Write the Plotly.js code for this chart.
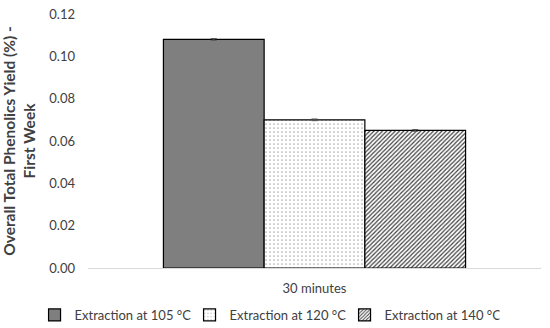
<!DOCTYPE html>
<html>
<head>
<meta charset="utf-8">
<script src="https://cdn.plot.ly/plotly-3.0.1.min.js"></script>
<style>html,body{margin:0;padding:0;background:#fff;}#chart{width:550px;height:328px;}</style>
</head>
<body>
<div id="chart"></div>
<script>
const categories = ['30 minutes'];
const seriesNames = ['Extraction at 105 °C', 'Extraction at 120 °C', 'Extraction at 140 °C'];
const yield105 = [0.108];
const yield120 = [0.070];
const yield140 = [0.065];
const err105 = [0.0004];
const err120 = [0.0004];
const err140 = [0.0004];
const yTicks = [0, 0.02, 0.04, 0.06, 0.08, 0.10, 0.12];
const yTickLabels = ['0.00', '0.02', '0.04', '0.06', '0.08', '0.10', '0.12'];

const font = 'Lato, "Open Sans", sans-serif';
const styles = [
  {fill: '#7f7f7f', pattern: {shape: '', bgcolor: '#7f7f7f'}},
  {fill: '#ffffff', pattern: {shape: '.', fgcolor: '#b0b0b0', bgcolor: '#ffffff', size: 4, solidity: 0.15}},
  {fill: '#ffffff', pattern: {shape: '/', fgcolor: '#404040', bgcolor: '#ffffff', size: 3, solidity: 0.4}}
];
const values = [yield105, yield120, yield140];
const errs = [err105, err120, err140];

const data = values.map((v, i) => ({
  type: 'bar',
  name: seriesNames[i],
  x: categories,
  y: v,
  error_y: {type: 'data', array: errs[i], visible: true, color: '#555', thickness: 1, width: 3},
  marker: {
    color: styles[i].fill,
    pattern: styles[i].pattern,
    line: {color: '#000', width: 1.2}
  }
}));

const layout = {
  width: 550, height: 328,
  margin: {l: 88, r: 9, t: 14, b: 60, autoexpand: false},
  paper_bgcolor: '#fff', plot_bgcolor: '#fff',
  font: {family: font, size: 13, color: '#404040'},
  barmode: 'group',
  bargap: 0.333,
  bargroupgap: 0,
  showlegend: true,
  legend: {orientation: 'h', x: -0.118, xanchor: 'left', y: -0.185, yanchor: 'middle',
           bgcolor: 'rgba(0,0,0,0)',
           font: {family: font, size: 13, color: '#404040'}, itemwidth: 30,
           entrywidth: 110, entrywidthmode: 'pixels', traceorder: 'normal'},
  xaxis: {
    showline: true, linecolor: '#d9d9d9', linewidth: 1, showgrid: false,
    ticks: '', ticklabelstandoff: 8,
    tickfont: {family: font, size: 13, color: '#404040'}, zeroline: false
  },
  yaxis: {
    range: [0, 0.12], tickvals: yTicks, ticktext: yTickLabels,
    showgrid: false, zeroline: false, showline: false, ticks: '',
    ticklabelstandoff: 12,
    tickfont: {family: font, size: 13, color: '#404040'},
    title: {text: '<b>Overall Total Phenolics Yield (%) -<br>First Week</b>',
            font: {family: font, size: 15.5, color: '#404040'}, standoff: 10}
  }
};

Plotly.newPlot('chart', data, layout, {staticPlot: true, displayModeBar: false});
</script>
</body>
</html>
